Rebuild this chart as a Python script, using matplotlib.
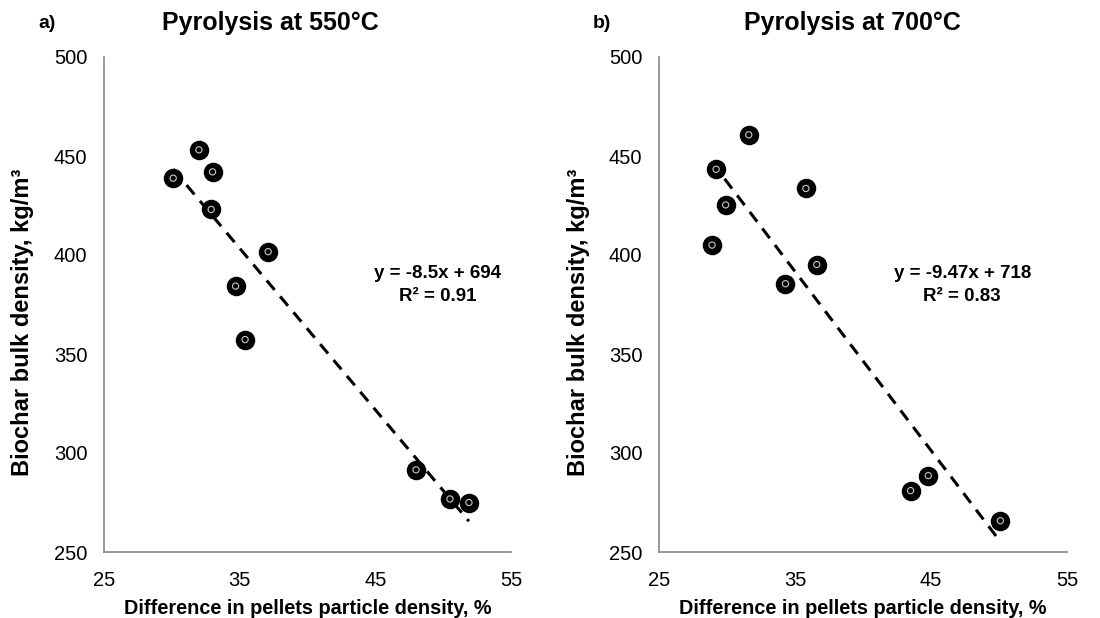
# Imports
import numpy as np
import matplotlib.pyplot as plt

plt.rcParams['font.family'] = ['Liberation Sans', 'DejaVu Sans']

# Data
x_550 = [30.1, 32.0, 33.0, 32.9, 37.1, 34.7, 35.4, 48.0, 50.5, 51.9]
y_550 = [438.8, 453.1, 442.0, 423.0, 401.7, 384.3, 357.3, 291.5, 276.8, 275.0]
x_700 = [31.6, 29.2, 35.8, 29.9, 28.9, 36.6, 34.3, 44.8, 43.5, 50.1]
y_700 = [460.7, 443.3, 433.6, 425.3, 405.0, 395.2, 385.5, 288.6, 281.0, 265.8]

# Trendline labels as printed (slope, intercept, R2)
fit_550 = (-8.5, 694, 0.91)
fit_700 = (-9.47, 718, 0.83)

titles = ["Pyrolysis at 550°C", "Pyrolysis at 700°C"]
panel_tags = ["a)", "b)"]
x_ticks = [25, 35, 45, 55]
y_ticks = [250, 300, 350, 400, 450, 500]

grey = "#868686"

fig = plt.figure(figsize=(11, 6.18), dpi=100)
ax_a = fig.add_axes([104 / 1100, 66 / 618, 407 / 1100, 495 / 618])
ax_b = fig.add_axes([659 / 1100, 66 / 618, 408 / 1100, 495 / 618])

panels = [
    (ax_a, x_550, y_550, fit_550, 49.6, 104, 270),
    (ax_b, x_700, y_700, fit_700, 47.3, 659, 852),
]

for i, (ax, xs, ys, fit, eq_x, ax_left_px, title_px) in enumerate(panels):
    # Points: black disc with small light ring in the middle
    ax.scatter(xs, ys, s=170, color="black", zorder=3)
    ax.scatter(xs, ys, s=20, facecolor="none", edgecolor="#c8c8c8",
               linewidth=0.8, zorder=4)

    # Dashed linear trendline over the data range
    p = np.polyfit(xs, ys, 1)
    xl = np.array([min(xs), max(xs)])
    ax.plot(xl, np.polyval(p, xl), color="black", lw=2.2,
            dashes=(4, 2.8), zorder=2)

    # Equation text
    slope, intercept, r2 = fit
    sign = "+" if intercept >= 0 else "-"
    eq = f"y = {slope:g}x {sign} {abs(intercept):g}\nR² = {r2:.2f}"
    ax.text(eq_x, 385, eq, ha="center", va="center", fontsize=13.5,
            fontweight="bold", linespacing=1.45)

    # Axes styling
    ax.set_xlim(25, 55)
    ax.set_ylim(250, 500)
    ax.set_xticks(x_ticks)
    ax.set_yticks(y_ticks)
    ax.tick_params(length=0, labelsize=14.5)
    ax.tick_params(axis="y", pad=12)
    ax.tick_params(axis="x", pad=14)
    for side in ["top", "right"]:
        ax.spines[side].set_visible(False)
    for side in ["left", "bottom"]:
        ax.spines[side].set_color(grey)
        ax.spines[side].set_linewidth(1.2)

    ax.set_xlabel("Difference in pellets particle density, %", fontsize=14.3,
                  fontweight="bold", labelpad=6)

    # Y label, titles and panel tags
    fig.text((ax_left_px - 81) / 1100, 1 - 322 / 618,
             "Biochar bulk density, kg/m³", rotation=90, ha="center",
             va="center", fontsize=17, fontweight="bold")
    fig.text(title_px / 1100, 1 - 23 / 618, titles[i], ha="center",
             va="center", fontsize=18, fontweight="bold")
    fig.text((ax_left_px - 66) / 1100, 1 - 23 / 618, panel_tags[i],
             ha="left", va="center", fontsize=14, fontweight="bold")

fig.savefig("out.png", dpi=100)
